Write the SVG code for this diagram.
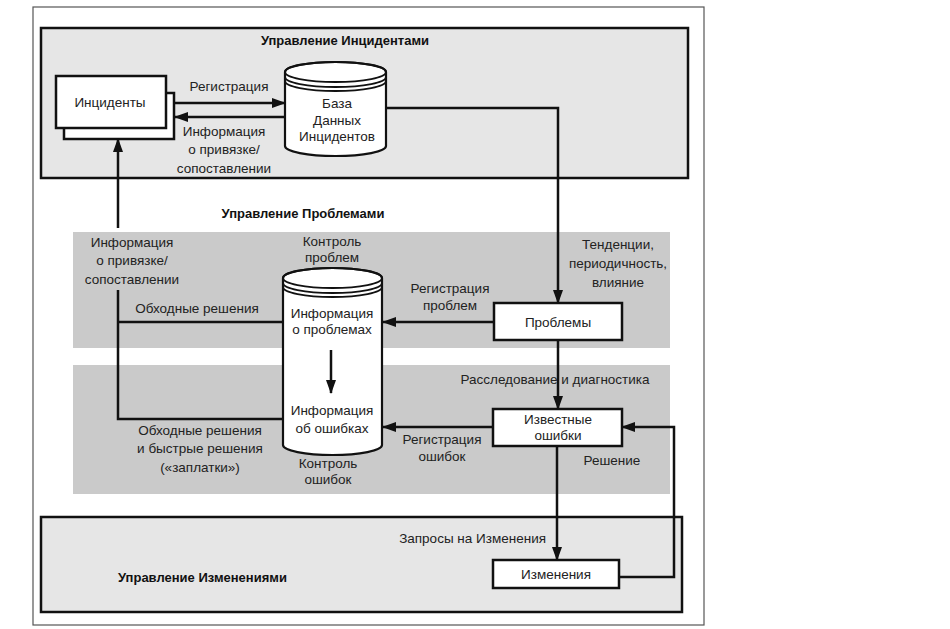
<svg xmlns="http://www.w3.org/2000/svg" width="950" height="629" viewBox="0 0 950 629">
<style>
.t{font-family:"Liberation Sans",Arial,sans-serif;font-size:13.5px;fill:#222}
.m{text-anchor:middle}
.e{text-anchor:end}
.h{font-family:"Liberation Sans",Arial,sans-serif;font-size:13px;font-weight:bold;fill:#111}
.box{fill:#fff;stroke:#111;stroke-width:2.5}
.zone{fill:#e6e6e6;stroke:#111;stroke-width:2.5}
.band{fill:#cacaca}
.cyl{fill:#fff;stroke:#111;stroke-width:2.2}
.ring{fill:none;stroke:#111;stroke-width:1.8}
.c{fill:none;stroke:#111;stroke-width:2.5}
</style>
<defs>
<marker id="ar" markerWidth="14" markerHeight="10" refX="13" refY="5" orient="auto" markerUnits="userSpaceOnUse">
<path d="M0,0 L14,5 L0,10 Z" fill="#111"/>
</marker>
</defs>
<rect width="950" height="629" fill="#fff"/>
<rect x="33" y="7" width="671" height="618" fill="none" stroke="#555" stroke-width="1.2"/>

<g id="incident-mgmt">
<rect class="zone" x="41" y="28" width="647" height="150"/>
<text class="h m" x="345" y="45">Управление Инцидентами</text>
</g>
<g id="problem-mgmt">
<text class="h m" x="303" y="218">Управление Проблемами</text>
<rect class="band" x="73" y="232" width="597" height="116"/>
<rect class="band" x="73" y="365" width="597" height="129"/>
</g>
<g id="change-mgmt">
<rect class="zone" x="41" y="517" width="641" height="95"/>
<text class="h" x="118" y="582">Управление Изменениями</text>
</g>

<g id="incidents">
<rect class="box" x="64" y="93" width="110" height="46"/>
<rect class="box" x="56" y="76" width="110" height="52"/>
<text class="t m" x="110" y="107">Инциденты</text>
</g>

<g id="incident-db">
<path class="cyl" d="M285,72 V146 A50.5,10 0 0 0 386,146 V72 A50.5,10 0 0 0 285,72 Z"/>
<ellipse class="ring" cx="335.5" cy="72" rx="50.5" ry="10"/>
<path class="ring" d="M285,77 A50.5,10 0 0 0 386,77"/>
<path class="ring" d="M285,81 A50.5,10 0 0 0 386,81"/>
<text class="t m" x="337" y="108">База</text>
<text class="t m" x="337" y="125">Данных</text>
<text class="t m" x="337" y="141">Инцидентов</text>
</g>

<g id="problem-db">
<path class="cyl" d="M283,278 V445 A49.5,10 0 0 0 382,445 V278 A49.5,10 0 0 0 283,278 Z"/>
<ellipse class="ring" cx="332.5" cy="278" rx="49.5" ry="10"/>
<path class="ring" d="M283,283 A49.5,10 0 0 0 382,283"/>
<path class="ring" d="M283,287 A49.5,10 0 0 0 382,287"/>
<text class="t m" x="332" y="246">Контроль</text>
<text class="t m" x="332" y="262">проблем</text>
<text class="t m" x="332" y="318">Информация</text>
<text class="t m" x="332" y="334">о проблемах</text>
<text class="t m" x="332" y="415">Информация</text>
<text class="t m" x="332" y="433">об ошибках</text>
<text class="t m" x="328" y="468">Контроль</text>
<text class="t m" x="328" y="484">ошибок</text>
</g>

<g id="problems">
<rect class="box" x="494" y="303" width="128" height="37"/>
<text class="t m" x="558" y="327">Проблемы</text>
</g>

<g id="known-errors">
<rect class="box" x="493" y="409" width="129" height="37"/>
<text class="t m" x="558" y="424">Известные</text>
<text class="t m" x="558" y="440">ошибки</text>
</g>

<g id="changes">
<rect class="box" x="493" y="560" width="126" height="28"/>
<text class="t m" x="556" y="579">Изменения</text>
</g>

<g id="connectors">
<line class="c" x1="174" y1="103" x2="285" y2="103" marker-end="url(#ar)"/>
<line class="c" x1="285" y1="117" x2="175" y2="117" marker-end="url(#ar)"/>
<path class="c" d="M386,108 H558 V303" marker-end="url(#ar)"/>
<line class="c" x1="494" y1="322" x2="383" y2="322" marker-end="url(#ar)"/>
<line class="c" x1="558" y1="340" x2="558" y2="409" marker-end="url(#ar)"/>
<line class="c" x1="493" y1="427" x2="383" y2="427" marker-end="url(#ar)"/>
<line class="c" x1="557" y1="446" x2="557" y2="560" marker-end="url(#ar)"/>
<path class="c" d="M619,577 H674 V427 H622" marker-end="url(#ar)"/>
<line class="c" x1="331" y1="350" x2="331" y2="393" marker-end="url(#ar)"/>
<path class="c" d="M283,322 H118"/>
<path class="c" d="M283,419 H118 V290"/>
<line class="c" x1="118" y1="228" x2="118" y2="139" marker-end="url(#ar)"/>

<text class="t m" x="229" y="91">Регистрация</text>
<text class="t m" x="224" y="136">Информация</text>
<text class="t m" x="224" y="154">о привязке/</text>
<text class="t m" x="224" y="173">сопоставлении</text>
<text class="t m" x="132" y="247">Информация</text>
<text class="t m" x="132" y="265">о привязке/</text>
<text class="t m" x="132" y="284">сопоставлении</text>
<text class="t m" x="197" y="313">Обходные решения</text>
<text class="t m" x="200" y="435">Обходные решения</text>
<text class="t m" x="200" y="453">и быстрые решения</text>
<text class="t m" x="200" y="472">(«заплатки»)</text>
<text class="t m" x="450" y="293">Регистрация</text>
<text class="t m" x="450" y="310">проблем</text>
<text class="t m" x="618" y="249">Тенденции,</text>
<text class="t m" x="618" y="268">периодичность,</text>
<text class="t m" x="618" y="287">влияние</text>
<text class="t m" x="555" y="384">Расследование и диагностика</text>
<text class="t m" x="442" y="444">Регистрация</text>
<text class="t m" x="442" y="461">ошибок</text>
<text class="t m" x="612" y="465">Решение</text>
<text class="t e" x="546" y="543">Запросы на Изменения</text>
</g>
</svg>
